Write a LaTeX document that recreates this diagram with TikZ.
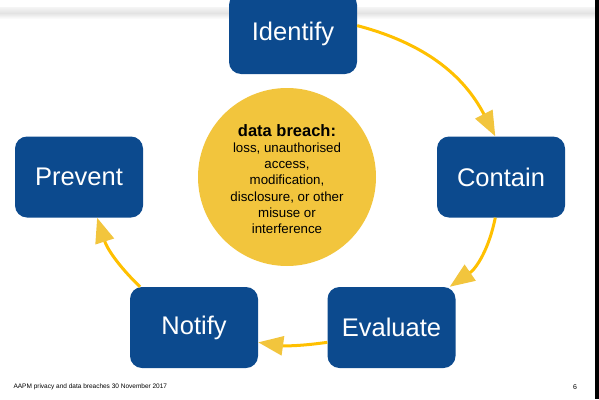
\documentclass[tikz,border=0pt]{standalone}
\usepackage{fontspec}
\setmainfont{Liberation Sans}
\usetikzlibrary{arrows.meta}
\definecolor{boxblue}{HTML}{0C4A8E}
\definecolor{breachyellow}{HTML}{F2C53D}
\definecolor{lineyellow}{HTML}{FFC000}
\begin{document}
\begin{tikzpicture}[x=1pt,y=-1pt,
	stage/.style={rectangle,rounded corners=12pt,fill=boxblue,text=white,
		minimum width=128pt,minimum height=81pt,inner sep=0pt,
		font=\fontsize{25.5}{30}\selectfont},
	cycle/.style={draw=lineyellow,line width=3pt,
		-{Triangle[length=25pt,width=19pt,color=breachyellow]}}]
\useasboundingbox (0,0) rectangle (599,399);
\shade[top color=gray!8,bottom color=white,middle color=gray!22] (0,7) rectangle (595,19);
\fill[black] (595,0) rectangle (599,399);
\node[circle,fill=breachyellow,minimum size=178pt,inner sep=0pt] (B) at (287,177) {};
\node[align=center,font=\fontsize{13.3}{16.2}\selectfont] at (287,179)
	{{\bfseries\fontsize{16.5}{17}\selectfont data breach:}\\
	loss, unauthorised\\ access,\\ modification,\\
	disclosure, or other\\ misuse or\\ interference};
\node[stage] (I) at (293,33.5) {Identify};
\node[stage] (C) at (501,177) {Contain};
\node[stage] (E) at (391.5,327.5) {Evaluate};
\node[stage] (N) at (194,327.5) {Notify};
\node[stage] (P) at (79,177) {Prevent};
\draw[cycle] (I.7) to[bend left=24] (C.98);
\draw[cycle] (C.262) to[bend left=22] (E.35);
\draw[cycle] (E.193) to[bend left=8] (N.347);
\draw[cycle] (N.143) to[bend left=14] (P.294);
\node[anchor=west,font=\fontsize{6.5}{8}\selectfont] (F) at (10,387)
	{AAPM privacy and data breaches 30 November 2017};
\node[font=\fontsize{7}{8}\selectfont] (pg) at (575,387) {6};
\end{tikzpicture}
\end{document}
